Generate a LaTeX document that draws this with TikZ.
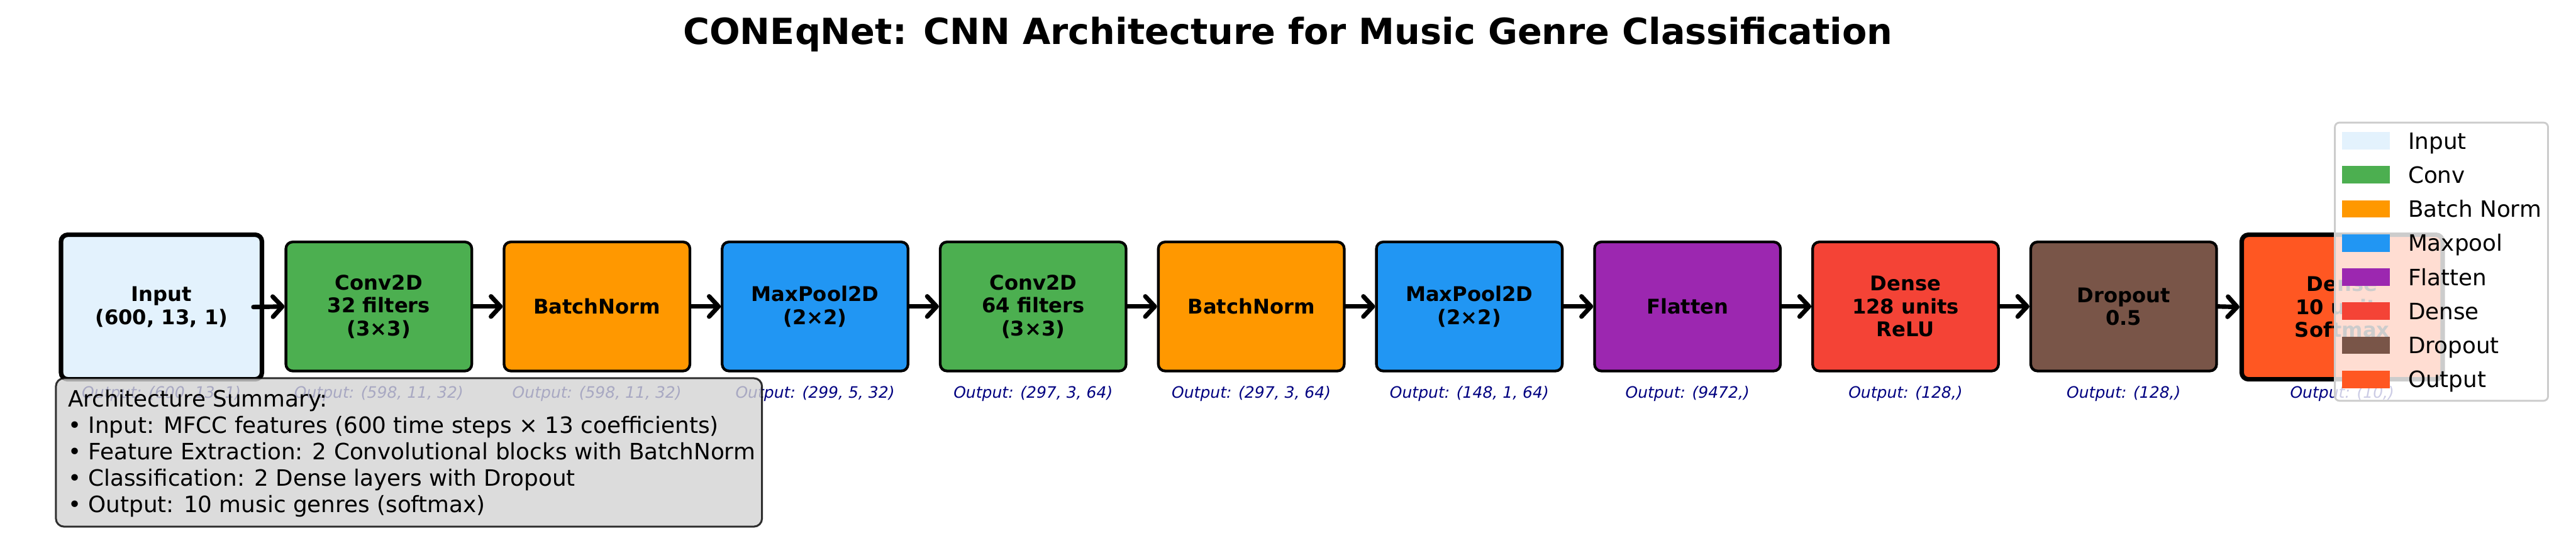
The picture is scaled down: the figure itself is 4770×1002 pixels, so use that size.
\documentclass[tikz,border=0pt]{standalone}
\usepackage{fontspec}
\setmainfont{DejaVu Sans}
\usetikzlibrary{arrows.meta}
\definecolor{cInput}{HTML}{E3F2FD}
\definecolor{cConv}{HTML}{4CAF50}
\definecolor{cBN}{HTML}{FF9800}
\definecolor{cPool}{HTML}{2196F3}
\definecolor{cFlat}{HTML}{9C27B0}
\definecolor{cDense}{HTML}{F44336}
\definecolor{cDrop}{HTML}{795548}
\definecolor{cOut}{HTML}{FF5722}
\definecolor{cNavy}{HTML}{000080}
\definecolor{cLight}{HTML}{D3D3D3}
\definecolor{cLegEdge}{HTML}{CCCCCC}
\tikzset{
  layer/.style={draw=black, line width=1.2pt, rounded corners=3pt, inner sep=0pt,
    minimum width=82.6pt, minimum height=57.4pt, align=center,
    font=\fontsize{9}{10.2}\selectfont\bfseries},
  biglayer/.style={layer, line width=2pt, minimum width=89.3pt, minimum height=64.3pt},
  outlabel/.style={anchor=base, inner sep=0pt, text=cNavy, font=\fontsize{7}{8.4}\selectfont\itshape},
  arr/.style={draw=black, line width=2pt, line cap=round, -{Straight Barb[length=4.2pt,width=9pt,round]}},
  legpatch/.style={draw=none},
  legtext/.style={anchor=base west, inner sep=0pt, font=\fontsize{10}{12}\selectfont},
}
\begin{document}
\begin{tikzpicture}[x=0.24pt, y=-0.24pt]
\useasboundingbox (0,0) rectangle (4770,1002);
% title
\node[anchor=base, inner sep=0pt, font=\fontsize{16}{19}\selectfont\bfseries] (title) at (2385,81.7)
  {CONEqNet: CNN Architecture for Music Genre Classification};
% layers
\node[biglayer, fill=cInput] (n0) at (299,569) {Input\\(600, 13, 1)};
\node[layer, fill=cConv]  (n1) at (701.5,568)  {Conv2D\\32 filters\\(3×3)};
\node[layer, fill=cBN]    (n2) at (1105.4,568) {BatchNorm};
\node[layer, fill=cPool]  (n3) at (1509.3,568) {MaxPool2D\\(2×2)};
\node[layer, fill=cConv]  (n4) at (1913.1,568) {Conv2D\\64 filters\\(3×3)};
\node[layer, fill=cBN]    (n5) at (2317.0,568) {BatchNorm};
\node[layer, fill=cPool]  (n6) at (2720.8,568) {MaxPool2D\\(2×2)};
\node[layer, fill=cFlat]  (n7) at (3124.7,568) {Flatten};
\node[layer, fill=cDense] (n8) at (3528.5,568) {Dense\\128 units\\ReLU};
\node[layer, fill=cDrop]  (n9) at (3932.4,568) {Dropout\\0.5};
\node[biglayer, fill=cOut] (n10) at (4337,569) {Dense\\10 units\\Softmax};
% arrows
\draw[arr] ([xshift=-4.8pt]n0.east) -- (n1.west);
\draw[arr] (n1.east) -- (n2.west);
\draw[arr] (n2.east) -- (n3.west);
\draw[arr] (n3.east) -- (n4.west);
\draw[arr] (n4.east) -- (n5.west);
\draw[arr] (n5.east) -- (n6.west);
\draw[arr] (n6.east) -- (n7.west);
\draw[arr] (n7.east) -- (n8.west);
\draw[arr] (n8.east) -- (n9.west);
\draw[arr] (n9.east) -- (n10.west);
% output shapes
\node[outlabel] (o0) at (299,738) {Output: (600, 13, 1)};
\node[outlabel] (o1) at (701.5,738) {Output: (598, 11, 32)};
\node[outlabel] (o2) at (1105.4,738) {Output: (598, 11, 32)};
\node[outlabel] (o3) at (1509.3,738) {Output: (299, 5, 32)};
\node[outlabel] (o4) at (1913.1,738) {Output: (297, 3, 64)};
\node[outlabel] (o5) at (2317.0,738) {Output: (297, 3, 64)};
\node[outlabel] (o6) at (2720.8,738) {Output: (148, 1, 64)};
\node[outlabel] (o7) at (3124.7,738) {Output: (9472,)};
\node[outlabel] (o8) at (3528.5,738) {Output: (128,)};
\node[outlabel] (o9) at (3932.4,738) {Output: (128,)};
\node[outlabel] (o10) at (4337,738) {Output: (10,)};
% summary
\draw[fill=cLight, draw=black, line width=0.85pt, rounded corners=3.6pt, opacity=0.8]
  (103.5,701) rectangle (1411,976);
\node[anchor=north west, inner sep=0pt, align=left, font=\fontsize{10}{11.76}\selectfont] (summary) at (125,721)
  {Architecture Summary:\\
   • Input: MFCC features (600 time steps × 13 coefficients)\\
   • Feature Extraction: 2 Convolutional blocks with BatchNorm\\
   • Classification: 2 Dense layers with Dropout\\
   • Output: 10 music genres (softmax)};
% legend
\draw[fill=white, fill opacity=0.8, draw=cLegEdge, line width=0.8pt, rounded corners=2pt]
  (4323.5,227.2) rectangle (4718.2,742.8);
\foreach \c/\t [count=\k from 0] in {cInput/Input, cConv/Conv, cBN/Batch Norm, cPool/Maxpool, cFlat/Flatten, cDense/Dense, cDrop/Dropout, cOut/Output}{
  \pgfmathsetmacro{\yc}{260.8+63.2*\k}
  \fill[\c] (4337.3,\yc-16.2) rectangle (4425,\yc+16.2);
  \node[legtext] (leg\k) at (4458.3,\yc+15.2) {\t};
}
\end{tikzpicture}
\end{document}
